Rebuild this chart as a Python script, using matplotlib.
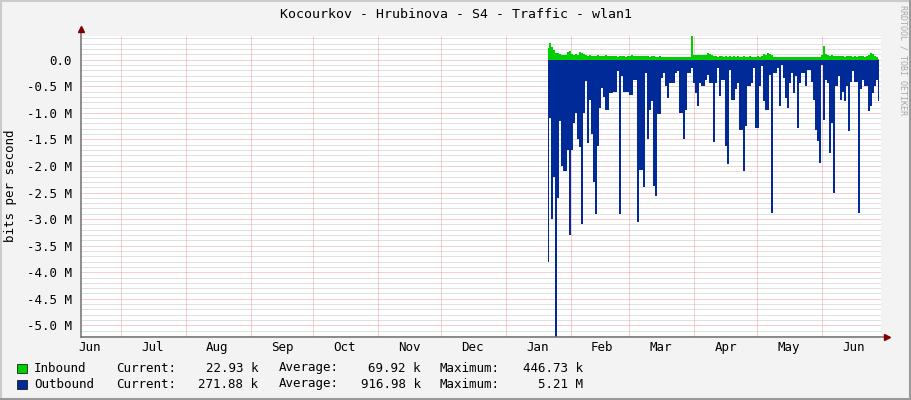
import datetime as dt
import numpy as np
import pandas as pd
import matplotlib
matplotlib.use('Agg')
import matplotlib.pyplot as plt
import matplotlib.dates as mdates
from matplotlib.ticker import MultipleLocator, FuncFormatter
from matplotlib.patches import Rectangle

plt.rcParams['font.family'] = ['DejaVu Sans Mono']

TITLE = 'Kocourkov - Hrubinova - S4 - Traffic - wlan1'
YLABEL = 'bits per second'

# graph window
x_start = dt.datetime(2020, 6, 11, 16)
x_end = dt.datetime(2021, 6, 29, 0)
data_start = dt.datetime(2021, 1, 21, 0)
data_end = dt.datetime(2021, 6, 28, 12)

# inbound, kbit/s
inbound_k = [220, 310, 240, 190, 130, 125, 100, 94, 90, 94, 150, 155, 110, 94, 100, 94,
             140, 130, 100, 80, 75, 80, 75, 70, 75, 80, 75, 70, 75, 80, 65, 63,
             70, 63, 75, 60, 63, 70, 63, 60, 65, 75, 80, 70, 75, 70, 75, 65,
             63, 70, 63, 60, 65, 63, 60, 55, 63, 55, 60, 50, 55, 50, 55, 60,
             50, 55, 50, 55, 60, 55, 50, 55, 446.73, 94, 90, 94, 80, 90, 94, 85,
             125, 100, 80, 70, 63, 60, 63, 70, 60, 63, 60, 65, 55, 63, 60, 63,
             55, 60, 63, 60, 55, 63, 60, 55, 60, 63, 60, 70, 110, 95, 120, 100,
             80, 60, 55, 50, 55, 60, 50, 55, 50, 55, 60, 55, 50, 55, 50, 55,
             60, 55, 50, 55, 60, 55, 50, 55, 60, 90, 250, 110, 90, 70, 80, 65,
             75, 70, 63, 70, 65, 60, 63, 70, 65, 60, 63, 60, 65, 70, 63, 60,
             65, 90, 125, 100, 70, 55, 22.93]

# outbound, Mbit/s (drawn below zero)
outbound_m = [3.8, 1.1, 3.0, 2.2, 5.21, 2.6, 1.15, 2.0, 2.1, 2.1, 1.7, 3.3, 1.7, 1.2, 1.0, 1.5,
              1.65, 3.1, 1.0, 0.4, 1.56, 0.75, 1.4, 2.3, 2.9, 1.63, 0.9, 0.53, 0.7, 0.94, 0.94, 0.63,
              0.63, 0.6, 0.6, 0.22, 2.9, 0.31, 0.6, 0.6, 0.6, 0.66, 0.66, 0.38, 0.38, 3.05, 2.07, 2.07,
              2.4, 0.25, 1.5, 0.94, 0.78, 2.38, 2.57, 1.03, 1.03, 0.34, 0.25, 0.5, 0.72, 0.44, 0.44, 0.44,
              0.25, 0.22, 1.0, 1.0, 1.5, 0.94, 0.25, 0.25, 0.16, 0.44, 0.63, 0.88, 0.44, 0.5, 0.5, 0.38,
              0.28, 0.44, 0.44, 1.54, 0.44, 0.16, 0.69, 0.38, 0.38, 1.63, 1.97, 0.19, 0.75, 0.75, 0.56, 0.44,
              1.32, 1.32, 2.1, 1.25, 0.5, 0.5, 0.44, 0.16, 1.28, 1.28, 0.5, 0.12, 0.78, 0.94, 0.94, 0.28,
              2.88, 0.25, 0.25, 0.16, 0.88, 0.09, 0.34, 0.72, 0.91, 0.44, 0.25, 0.63, 0.31, 1.28, 0.44, 0.25,
              0.25, 0.5, 0.19, 0.19, 0.41, 0.75, 1.32, 1.53, 1.94, 0.09, 1.13, 0.38, 0.44, 1.75, 1.19, 2.5,
              0.5, 0.5, 0.31, 0.75, 0.6, 0.78, 0.5, 1.35, 0.41, 0.22, 0.41, 0.41, 2.88, 0.56, 0.38, 0.5,
              0.5, 0.97, 0.88, 0.63, 0.5, 0.38, 0.78]

legend_rows = [
    ('Inbound', '#00CF00', '22.93 k', '69.92 k', '446.73 k'),
    ('Outbound', '#002A97', '271.88 k', '916.98 k', '5.21 M'),
]

W, H = 911, 400
BACK = '#F3F3F3'
DOTS = (0, (1, 1))


def fx(px):
    return px / W


def fy(py):
    return 1 - py / H


def ylab(v, pos):
    if abs(v) < 1:
        return '0.0'
    return '%.1f M' % (v / 1e6)


fig = plt.figure(figsize=(W / 100, H / 100), dpi=100, facecolor=BACK)
ax = fig.add_axes([fx(80.5), fy(336.5), 800 / W, 300.5 / H])
ax.set_facecolor('white')

t_in = pd.date_range(data_start, data_end, periods=len(inbound_k))
t_out = pd.date_range(data_start, data_end, periods=len(outbound_m))
inb = np.array(inbound_k) * 1e3
outb = -np.array(outbound_m) * 1e6

ax.fill_between(t_out, outb, 0, step='mid', color='#002A97', linewidth=0, zorder=3)
ax.fill_between(t_in, 0, inb, step='mid', color='#00CF00', linewidth=0, zorder=3)

ax.set_xlim(x_start, x_end)
ax.set_ylim(-5.21e6, 446.73e3)

# grid like rrdtool
ax.yaxis.set_major_locator(MultipleLocator(5e5))
ax.yaxis.set_major_formatter(FuncFormatter(ylab))
ax.xaxis.set_major_locator(mdates.MonthLocator(bymonthday=16))
ax.xaxis.set_major_formatter(mdates.DateFormatter('%b'))
ax.xaxis.set_minor_locator(mdates.MonthLocator(bymonthday=1))

for v in np.arange(-5.2e6, 4.5e5, 1e5):
    if abs(round(v / 1e5)) % 5 == 0:
        continue
    ax.axhline(v, color='#C2C2C2', lw=0.72, ls=DOTS, zorder=1)
for v in np.arange(-5.0e6, 1e5, 5e5):
    ax.axhline(v, color='#F09C9C', lw=0.72, ls=DOTS, zorder=1)
for d in ax.xaxis.get_minorticklocs():
    ax.axvline(d, color='#F09C9C', lw=0.72, ls=DOTS, zorder=1)

for s in ax.spines.values():
    s.set_visible(False)
ax.tick_params(axis='both', which='both', length=0)
ax.tick_params(axis='y', pad=6, labelsize=9)
ax.tick_params(axis='x', pad=3, labelsize=9)

# axis lines with arrows
ax.plot([0, 1.006], [0, 0], transform=ax.transAxes, color='#707070', lw=1.1,
        clip_on=False, zorder=5)
ax.plot([0, 0], [0, 1.02], transform=ax.transAxes, color='#707070', lw=1.1,
        clip_on=False, zorder=5)
ax.plot([1.008], [0], transform=ax.transAxes, marker='>', ms=4.5, color='#7F0000',
        clip_on=False, zorder=6)
ax.plot([0], [1.022], transform=ax.transAxes, marker='^', ms=4.5, color='#7F0000',
        clip_on=False, zorder=6)

fig.text(fx(456), fy(14), TITLE, ha='center', va='center', fontsize=9.5)
fig.text(fx(11), fy(186), YLABEL, ha='center', va='center', rotation=90, fontsize=9)
fig.text(fx(903), fy(60), 'RRDTOOL / TOBI OETIKER', ha='center', va='center',
         rotation=270, fontsize=6, color='#A8A8A8')

# legend
for i, (name, col, cur, avg, mx) in enumerate(legend_rows):
    yc = 368 + i * 16
    fig.patches.append(Rectangle((fx(17), fy(yc + 4.5)), 10 / W, 9 / H, transform=fig.transFigure,
                                 facecolor=col, edgecolor='#000000', lw=0.5))
    fig.text(fx(34), fy(yc), name, va='center', fontsize=9)
    fig.text(fx(116), fy(yc), 'Current:', va='center', fontsize=9)
    fig.text(fx(258), fy(yc), cur, va='center', ha='right', fontsize=9)
    fig.text(fx(279), fy(yc), 'Average:', va='center', fontsize=9)
    fig.text(fx(421), fy(yc), avg, va='center', ha='right', fontsize=9)
    fig.text(fx(440), fy(yc), 'Maximum:', va='center', fontsize=9)
    fig.text(fx(583), fy(yc), mx, va='center', ha='right', fontsize=9)

# shaded frame
fig.add_artist(plt.Line2D([0, 1], [fy(1), fy(1)], transform=fig.transFigure, color='#CBCBCB', lw=1.5))
fig.add_artist(plt.Line2D([fx(1), fx(1)], [0, 1], transform=fig.transFigure, color='#CBCBCB', lw=1.5))
fig.add_artist(plt.Line2D([0, 1], [fy(399), fy(399)], transform=fig.transFigure, color='#999999', lw=1.5))
fig.add_artist(plt.Line2D([fx(910), fx(910)], [0, 1], transform=fig.transFigure, color='#999999', lw=1.5))

fig.savefig('out.png', dpi=100, facecolor=BACK)
